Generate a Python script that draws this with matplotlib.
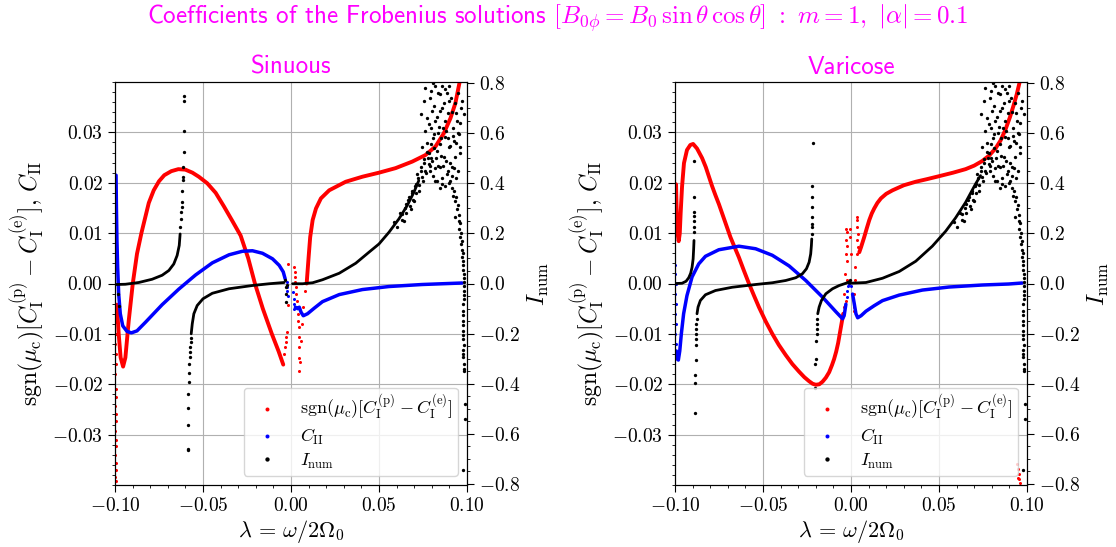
import numpy as np
import matplotlib
matplotlib.use("Agg")
import matplotlib.pyplot as plt
from matplotlib.ticker import MultipleLocator

nan = np.nan

# ---------------- Sinuous ----------------
sin_red_x = [-0.0989, -0.0979, -0.0968, -0.0954, -0.0941, -0.0922, -0.0899, -0.0875, -0.0850, -0.0808,
             -0.0780, -0.0750, -0.0720, -0.0680, -0.0640, -0.0600, -0.0560, -0.0524, -0.0476, -0.0428,
             -0.0381, -0.0333, -0.0286, -0.0243, -0.0205, -0.0160, -0.0109, -0.0070, -0.0044, nan,
             0.0089, 0.0100, 0.0109, 0.0123, 0.0142, 0.0170, 0.0217, 0.0311, 0.0406, 0.0500,
             0.0594, 0.0689, 0.0764, 0.0821, 0.0868, 0.0906, 0.0934, 0.0957]
sin_red_y = [-0.0042, -0.0100, -0.0147, -0.0165, -0.0147, -0.0074, 0.0, 0.0059, 0.0100, 0.0160,
             0.0185, 0.0203, 0.0215, 0.0223, 0.0227, 0.0226, 0.0220, 0.0212, 0.0199, 0.0180,
             0.0153, 0.0124, 0.0095, 0.0050, 0.0, -0.0050, -0.0100, -0.0135, -0.0161, nan,
             0.0, 0.0052, 0.0092, 0.0126, 0.0149, 0.0169, 0.0185, 0.0202, 0.0212, 0.0220,
             0.0229, 0.0242, 0.0255, 0.0272, 0.0298, 0.0328, 0.0358, 0.0398]
sin_red_pts_x = [-0.0997, -0.0998, -0.0996, -0.0997, -0.0998, -0.0996, -0.0997, -0.0998, -0.0997, -0.0996,
                 -0.0998, -0.0997, -0.0996, -0.0998, -0.0997, -0.0996, -0.0998, -0.0997, -0.0996, -0.0998, -0.0997,
                 -0.0016, -0.0016, -0.0024, -0.0027, -0.0029, -0.0033, -0.0038,
                 0.0019, 0.0021, 0.0023, 0.0025, 0.0026, 0.0028, 0.0032, 0.0036, 0.0040, 0.0042,
                 0.0043, 0.0045, 0.0045, 0.0047, 0.0047, 0.0052, 0.0057, 0.0062, 0.0070, 0.0081]
sin_red_pts_y = [-0.0047, -0.0060, -0.0077, -0.0100, -0.0120, -0.0140, -0.0160, -0.0180, -0.0210, -0.0226,
                 -0.0243, -0.0260, -0.0273, -0.0293, -0.0310, -0.0323, -0.0340, -0.0356, -0.0370, -0.0384, -0.0393,
                 0.0038, -0.0043, -0.0097, -0.0107, -0.0117, -0.0127, -0.0140,
                 0.0033, 0.0023, 0.0013, 0.0003, -0.0007, -0.0021, -0.0034, -0.0047, -0.0060, -0.0074,
                 -0.0087, -0.0107, -0.0127, -0.0147, -0.0173, -0.0155, -0.0114, -0.0080, -0.0047, -0.0014]

sin_blue_x = [-0.0994, -0.0992, -0.0989, -0.0985, -0.0979, -0.0970, -0.0956, -0.0932, -0.0907, -0.0875,
              -0.0827, -0.0732, -0.0637, -0.0542, -0.0447, -0.0352, -0.0276, -0.0219, -0.0162, -0.0105,
              -0.0067, -0.0044, -0.0033, nan,
              0.0025, 0.0038, 0.0047, 0.0057, 0.0070, 0.0094, 0.0132, 0.0179, 0.0274, 0.0406,
              0.0557, 0.0745, 0.0896, 0.0972]
sin_blue_y = [0.0215, 0.0152, 0.0086, 0.0033, -0.0021, -0.0060, -0.0084, -0.0095, -0.0098, -0.0094,
              -0.0077, -0.0042, -0.0011, 0.0017, 0.0041, 0.0057, 0.0064, 0.0065, 0.0060, 0.0049,
              0.0036, 0.0023, 0.0009, nan,
              -0.0047, -0.0050, -0.0047, -0.0057, -0.0064, -0.0060, -0.0049, -0.0036, -0.0022, -0.0012,
              -0.0006, -0.0002, 0.0, 0.0001]
sin_blue_pts_x = [-0.0025, -0.0023, -0.0020, -0.0018, 0.0013, 0.0017, 0.0019, 0.0019]
sin_blue_pts_y = [0.0003, -0.0007, -0.0015, -0.0024, -0.0017, -0.0031, -0.0041, -0.0050]

sin_blk_x = [-0.0994, -0.0941, -0.0865, -0.0789, -0.0732, -0.0694, -0.0666, -0.0647, -0.0635, -0.0630, nan,
             -0.0567, -0.0561, -0.0552, -0.0533, -0.0500, -0.0447, -0.0352, -0.0219, -0.0124, -0.0039, nan,
             0.0009, 0.0066, 0.0123, 0.0179, 0.0274, 0.0368, 0.0443, 0.0500, 0.0557, 0.0613,
             0.0660, 0.0698, 0.0726]
sin_blk_y = [-0.004, -0.003, 0.004, 0.017, 0.033, 0.052, 0.078, 0.112, 0.152, 0.198, nan,
             -0.201, -0.161, -0.121, -0.088, -0.061, -0.039, -0.021, -0.008, -0.001, 0.004, nan,
             -0.001, -0.001, 0.003, 0.015, 0.041, 0.081, 0.125, 0.158, 0.205, 0.258,
             0.311, 0.364, 0.411]
sin_blk_pts_x = [-0.0628, -0.0626, -0.0624, -0.0622, -0.0620, -0.0618, -0.0616, -0.0614, -0.0612, -0.0610,
                 -0.0609, -0.0607, -0.0609, -0.0979, -0.0983,
                 -0.0586, -0.0588, -0.0588, -0.0586, -0.0584, -0.0582, -0.0580, -0.0578, -0.0576, -0.0574,
                 -0.0572, -0.0570, -0.0569,
                 -0.0033, -0.0031, -0.0029, -0.0029, -0.0025]
sin_blk_pts_y = [0.225, 0.258, 0.285, 0.305, 0.324, 0.371, 0.414, 0.424, 0.467, 0.527,
                 0.610, 0.730, 0.750, -0.088, -0.041,
                 -0.666, -0.660, -0.566, -0.497, -0.440, -0.394, -0.358, -0.320, -0.294, -0.274,
                 -0.254, -0.234, -0.217,
                 0.012, -0.015, -0.041, -0.074, -0.004]

# noisy I_num cloud near lambda -> 0.1 (same look in both panels)
cloud_x = [0.0632, 0.0651, 0.0642, 0.0670, 0.0679, 0.0689, 0.0698, 0.0708, 0.0717, 0.0726,
           0.0736, 0.0745, 0.0755, 0.0764, 0.0774, 0.0783,
           0.0793, 0.0821, 0.0849, 0.0877, 0.0896, 0.0802, 0.0830, 0.0858, 0.0915, 0.0943,
           0.0783, 0.0811, 0.0840, 0.0877, 0.0925, 0.0953, 0.0793, 0.0830, 0.0868, 0.0896,
           0.0934, 0.0962, 0.0802, 0.0849, 0.0887, 0.0915, 0.0821, 0.0858, 0.0906, 0.0745,
           0.0764, 0.0736, 0.0755, 0.0877, 0.0972, 0.0981, 0.0849,
           0.0925, 0.0934, 0.0943, 0.0930, 0.0953, 0.0957, 0.0962, 0.0966, 0.0972, 0.0974,
           0.0977, 0.0981, 0.0983, 0.0981, 0.0983, 0.0979, 0.0976, 0.0979, 0.0977, 0.0976,
           0.0979, 0.0981, 0.0991, 0.0987, 0.0976,
           0.0760, 0.0790, 0.0805, 0.0815, 0.0835, 0.0845, 0.0860, 0.0870, 0.0885, 0.0890,
           0.0900, 0.0910, 0.0920, 0.0930, 0.0940, 0.0950, 0.0960, 0.0968,
           0.0775, 0.0795, 0.0808, 0.0820, 0.0835, 0.0850, 0.0862, 0.0880, 0.0893, 0.0905,
           0.0918, 0.0935, 0.0948, 0.0958,
           0.0770, 0.0785, 0.0798, 0.0812, 0.0826, 0.0838, 0.0852, 0.0866, 0.0878, 0.0892,
           0.0904, 0.0916, 0.0928, 0.0940, 0.0950,
           0.0790, 0.0805, 0.0818, 0.0832, 0.0846, 0.0860, 0.0873, 0.0897, 0.0912, 0.0920,
           0.0585, 0.0600, 0.0620, 0.0630, 0.0645, 0.0655, 0.0665, 0.0675, 0.0685, 0.0695,
           0.0705, 0.0712, 0.0720, 0.0730, 0.0740, 0.0748, 0.0757, 0.0768, 0.0778, 0.0787,
           0.0938, 0.0947, 0.0955, 0.0960, 0.0968, 0.0971, 0.0975, 0.0978, 0.0980, 0.0982,
           0.0984, 0.0982, 0.0980, 0.0978, 0.0980, 0.0978, 0.0981, 0.0979, 0.0983, 0.0982]
cloud_y = [0.278, 0.318, 0.251, 0.344, 0.298, 0.371, 0.331, 0.398, 0.437, 0.371,
           0.464, 0.424, 0.497, 0.451, 0.524, 0.477,
           0.770, 0.790, 0.757, 0.777, 0.730, 0.690, 0.664, 0.703, 0.684, 0.650,
           0.637, 0.597, 0.624, 0.584, 0.570, 0.597, 0.557, 0.531, 0.504, 0.544,
           0.504, 0.544, 0.491, 0.464, 0.437, 0.464, 0.411, 0.398, 0.411, 0.544,
           0.610, 0.677, 0.730, 0.650, 0.730, 0.677, 0.557,
           0.371, 0.331, 0.298, 0.265, 0.251, 0.218, 0.185, 0.158, 0.132, 0.105,
           0.072, 0.039, 0.005, -0.028, -0.061, -0.108, -0.148, -0.188, -0.221, -0.267,
           -0.294, -0.340, -0.480, -0.540, -0.746,
           0.780, 0.740, 0.800, 0.710, 0.760, 0.690, 0.790, 0.720, 0.760, 0.680,
           0.790, 0.740, 0.620, 0.720, 0.680, 0.760, 0.640, 0.700,
           0.660, 0.620, 0.580, 0.650, 0.600, 0.580, 0.620, 0.610, 0.580, 0.550,
           0.590, 0.560, 0.600, 0.520,
           0.560, 0.520, 0.500, 0.540, 0.500, 0.470, 0.510, 0.470, 0.490, 0.450,
           0.480, 0.430, 0.460, 0.420, 0.450,
           0.450, 0.430, 0.460, 0.410, 0.380, 0.420, 0.390, 0.400, 0.380, 0.350,
           0.245, 0.225, 0.280, 0.255, 0.300, 0.280, 0.335, 0.310, 0.360, 0.335,
           0.390, 0.360, 0.420, 0.395, 0.450, 0.410, 0.480, 0.440, 0.500, 0.470,
           0.345, 0.315, 0.275, 0.240, 0.200, 0.170, 0.120, 0.090, 0.055, 0.020,
           -0.010, -0.045, -0.080, -0.125, -0.165, -0.205, -0.245, -0.280, -0.320, -0.350]

# ---------------- Varicose ----------------
var_red_x = [-0.0994, -0.0992, -0.0989, -0.0985, -0.0979, -0.0973, -0.0968, -0.0960, -0.0949, -0.0932,
             -0.0913, -0.0897, -0.0875, -0.0846, -0.0825, -0.0808, -0.0790, -0.0770, -0.0750, -0.0732,
             -0.0708, -0.0685, -0.0660, -0.0637, -0.0610, -0.0580, -0.0550, -0.0523, -0.0485, -0.0447,
             -0.0410, -0.0371, -0.0333, -0.0295, -0.0265, -0.0238, -0.0218, -0.0200, -0.0180, -0.0162,
             -0.0143, -0.0124, -0.0108, -0.0096, -0.0084, -0.0073, -0.0058, -0.0044, nan,
             0.0047, 0.0057, 0.0075, 0.0090, 0.0104, 0.0118, 0.0132, 0.0150, 0.0170, 0.0200,
             0.0236, 0.0300, 0.0368, 0.0430, 0.0500, 0.0580, 0.0651, 0.0700, 0.0745, 0.0785,
             0.0821, 0.0850, 0.0877, 0.0903, 0.0925, 0.0942, 0.0957]
var_red_y = [0.0197, 0.0165, 0.0126, 0.0099, 0.0084, 0.0099, 0.0139, 0.0192, 0.0239, 0.0265,
             0.0275, 0.0277, 0.0268, 0.0249, 0.0231, 0.0213, 0.0194, 0.0175, 0.0157, 0.0139,
             0.0115, 0.0092, 0.0071, 0.0052, 0.0027, 0.0, -0.0025, -0.0047, -0.0075, -0.0100,
             -0.0122, -0.0142, -0.0160, -0.0175, -0.0186, -0.0194, -0.0199, -0.0201, -0.0200, -0.0195,
             -0.0187, -0.0176, -0.0162, -0.0150, -0.0135, -0.0118, -0.0088, -0.0060, nan,
             0.0062, 0.0072, 0.0092, 0.0110, 0.0126, 0.0139, 0.0149, 0.0160, 0.0169, 0.0178,
             0.0185, 0.0195, 0.0202, 0.0207, 0.0213, 0.0220, 0.0227, 0.0234, 0.0243, 0.0254,
             0.0268, 0.0284, 0.0305, 0.0330, 0.0355, 0.0376, 0.0398]
var_red_pts_x = [-0.0027, -0.0023, -0.0031, -0.0025, -0.0029, -0.0024, -0.0033, -0.0025, -0.0037, -0.0029, -0.0040,
                 -0.0006, -0.0004, -0.0002,
                 0.0032, 0.0036, 0.0034, 0.0038, 0.0036, 0.0032, 0.0025, 0.0021, 0.0017, 0.0015, 0.0017, 0.0042,
                 0.0945, 0.0949, 0.0953, 0.0957, 0.0960, 0.0951]
var_red_pts_y = [0.0109, 0.0102, 0.0086, 0.0075, 0.0059, 0.0045, 0.0019, 0.0006, -0.0021, -0.0034, -0.0047,
                 0.0109, 0.0092, 0.0059,
                 0.0132, 0.0126, 0.0112, 0.0099, 0.0086, 0.0059, 0.0033, 0.0006, -0.0021, -0.0047, -0.0054, 0.0072,
                 -0.0359, -0.0369, -0.0379, -0.0389, -0.0396, -0.0386]

var_blue_x = [-0.0992, -0.0987, -0.0981, -0.0973, -0.0964, -0.0951, -0.0932, -0.0903, -0.0865, -0.0827,
              -0.0751, -0.0637, -0.0542, -0.0447, -0.0352, -0.0257, -0.0162, -0.0086, -0.0048, -0.0039,
              -0.0029, nan,
              0.0009, 0.0019, 0.0028, 0.0038, 0.0057, 0.0085, 0.0132, 0.0179, 0.0274, 0.0406,
              0.0557, 0.0745, 0.0896, 0.0972]
var_blue_y = [-0.0134, -0.0150, -0.0152, -0.0134, -0.0100, -0.0060, -0.0024, 0.0013, 0.0039, 0.0054,
              0.0067, 0.0074, 0.0069, 0.0056, 0.0035, 0.0006, -0.0027, -0.0056, -0.0070, -0.0064,
              -0.0041, nan,
              -0.0021, -0.0041, -0.0060, -0.0068, -0.0064, -0.0055, -0.0044, -0.0034, -0.0023, -0.0013,
              -0.0007, -0.0003, -0.0001, 0.0001]
var_blue_pts_x = [-0.0998, -0.0998, -0.0996, -0.0998, -0.0996, -0.0998, -0.0996, -0.0998, -0.0994,
                  -0.0025, -0.0021, -0.0016, -0.0010, 0.0]
var_blue_pts_y = [0.0036, 0.0019, 0.0, -0.0021, -0.0041, -0.0060, -0.0080, -0.0100, -0.0120,
                  -0.0027, -0.0014, -0.0004, 0.0, -0.0004]

var_blk_x = [-0.0994, -0.0960, -0.0937, -0.0922, -0.0911, -0.0903, -0.0897, -0.0894, -0.0892, nan,
             -0.0875, -0.0869, -0.0856, -0.0827, -0.0770, -0.0675, -0.0542, -0.0447, -0.0371, -0.0314,
             -0.0276, -0.0253, -0.0238, -0.0229, -0.0225, -0.0223, nan,
             -0.0189, -0.0181, -0.0168, -0.0143, -0.0105, -0.0067, -0.0029, -0.0010, nan,
             -0.0009, 0.0085, 0.0179, 0.0274, 0.0368, 0.0462, 0.0538, 0.0594, 0.0651, 0.0708, 0.0736]
var_blk_y = [0.0, 0.001, 0.009, 0.023, 0.041, 0.065, 0.098, 0.138, 0.172, nan,
             -0.121, -0.094, -0.068, -0.045, -0.028, -0.015, -0.004, 0.003, 0.012, 0.023,
             0.039, 0.059, 0.085, 0.118, 0.152, 0.178, nan,
             -0.121, -0.094, -0.068, -0.041, -0.021, -0.008, 0.001, 0.007, nan,
             0.001, 0.004, 0.021, 0.048, 0.089, 0.149, 0.209, 0.262, 0.324, 0.398, 0.431]
var_blk_pts_x = [-0.0892, -0.0892, -0.0890, -0.0892, -0.0892, -0.0894, -0.0892,
                 -0.0884, -0.0884, -0.0884, -0.0882, -0.0882, -0.0880, -0.0880, -0.0878, -0.0878, -0.0876,
                 -0.0221, -0.0221, -0.0221, -0.0221, -0.0219, -0.0219, -0.0219, -0.0215,
                 -0.0204, -0.0204, -0.0200, -0.0198, -0.0196, -0.0196, -0.0194, -0.0192, -0.0004]
var_blk_pts_y = [0.205, 0.225, 0.251, 0.271, 0.285, 0.344, 0.491,
                 -0.517, -0.398, -0.366, -0.305, -0.247, -0.221, -0.201, -0.181, -0.161, -0.141,
                 0.198, 0.225, 0.238, 0.267, 0.305, 0.344, 0.391, 0.561,
                 -0.416, -0.323, -0.301, -0.230, -0.201, -0.181, -0.161, -0.141, 0.012]

# ---------------- style ----------------
plt.rcParams['mathtext.fontset'] = 'cm'
plt.rcParams['font.family'] = ['cmr10', 'DejaVu Serif']
plt.rcParams['axes.formatter.use_mathtext'] = True

MAGENTA = '#ff00ff'
lab_red = r'$\mathrm{sgn}(\mu_\mathrm{c})[C_\mathrm{I}^{(\mathrm{p})} - C_\mathrm{I}^{(\mathrm{e})}]$'
lab_blue = r'$C_\mathrm{II}$'
lab_blk = r'$I_\mathrm{num}$'
ylab = r'$\mathrm{sgn}(\mu_\mathrm{c})[C_\mathrm{I}^{(\mathrm{p})} - C_\mathrm{I}^{(\mathrm{e})}],\, C_\mathrm{II}$'


def panel(fig, rect, title, red, red_pts, blue, blue_pts, blk, blk_pts):
    ax = fig.add_axes(rect)
    ax.grid(True, color='#b0b0b0', lw=0.8)
    ax.plot(red[0], red[1], color='red', lw=2.8, solid_capstyle='round')
    h_red, = ax.plot(red_pts[0], red_pts[1], 'o', color='red', ms=2.2, mew=0)
    ax.plot(blue[0], blue[1], color='blue', lw=2.5, solid_capstyle='round')
    h_blue, = ax.plot(blue_pts[0], blue_pts[1], 'o', color='blue', ms=2.2, mew=0)
    ax.set_xlim(-0.1, 0.1)
    ax.set_ylim(-0.04, 0.04)
    ax.set_xticks([-0.1, -0.05, 0.0, 0.05, 0.1])
    ax.set_yticks([-0.03, -0.02, -0.01, 0.0, 0.01, 0.02, 0.03])
    ax.xaxis.set_minor_locator(MultipleLocator(0.01))
    ax.yaxis.set_minor_locator(MultipleLocator(0.002))
    ax.tick_params(which='major', labelsize=14, length=5)
    ax.tick_params(which='minor', length=2.5)
    ax.set_xlabel(r'$\lambda\,=\,\omega/2\Omega_0$', fontsize=16, labelpad=2)
    ax.set_ylabel(ylab, fontsize=17)
    ax.set_title(title, color=MAGENTA, fontsize=18, fontfamily='cmss10')

    ax2 = ax.twinx()
    ax2.plot(blk[0], blk[1], color='black', lw=2.0, solid_capstyle='round')
    h_blk, = ax2.plot(blk_pts[0], blk_pts[1], 'o', color='black', ms=2.4, mew=0)
    ax2.plot(cloud_x, cloud_y, 'o', color='black', ms=2.4, mew=0)
    ax2.set_ylim(-0.805, 0.805)
    ax2.set_yticks([-0.8, -0.6, -0.4, -0.2, 0.0, 0.2, 0.4, 0.6, 0.8])
    ax2.yaxis.set_minor_locator(MultipleLocator(0.05))
    ax2.tick_params(which='major', labelsize=14, length=5)
    ax2.tick_params(which='minor', length=2.5)
    ax2.set_ylabel(lab_blk, fontsize=17)

    ax2.legend([h_red, h_blue, h_blk], [lab_red, lab_blue, lab_blk], loc='lower right',
               fontsize=13, markerscale=1.3, labelspacing=0.25, borderpad=0.3)


fig = plt.figure(figsize=(11.16, 5.47), dpi=100)
panel(fig, [115 / 1116, 62 / 547, 352 / 1116, 403 / 547], 'Sinuous',
      (sin_red_x, sin_red_y), (sin_red_pts_x, sin_red_pts_y),
      (sin_blue_x, sin_blue_y), (sin_blue_pts_x, sin_blue_pts_y),
      (sin_blk_x, sin_blk_y), (sin_blk_pts_x, sin_blk_pts_y))
panel(fig, [675 / 1116, 62 / 547, 352 / 1116, 403 / 547], 'Varicose',
      (var_red_x, var_red_y), (var_red_pts_x, var_red_pts_y),
      (var_blue_x, var_blue_y), (var_blue_pts_x, var_blue_pts_y),
      (var_blk_x, var_blk_y), (var_blk_pts_x, var_blk_pts_y))

fig.text(0.5, 1 - 18 / 547,
         r'Coefficients of the Frobenius solutions $[B_{0\phi} = B_0\,\sin\theta\,\cos\theta]\ :\ m = 1,\ |\alpha| = 0.1$',
         ha='center', va='center', color=MAGENTA, fontsize=18, fontfamily='cmss10')

fig.savefig('out.png', dpi=100)
